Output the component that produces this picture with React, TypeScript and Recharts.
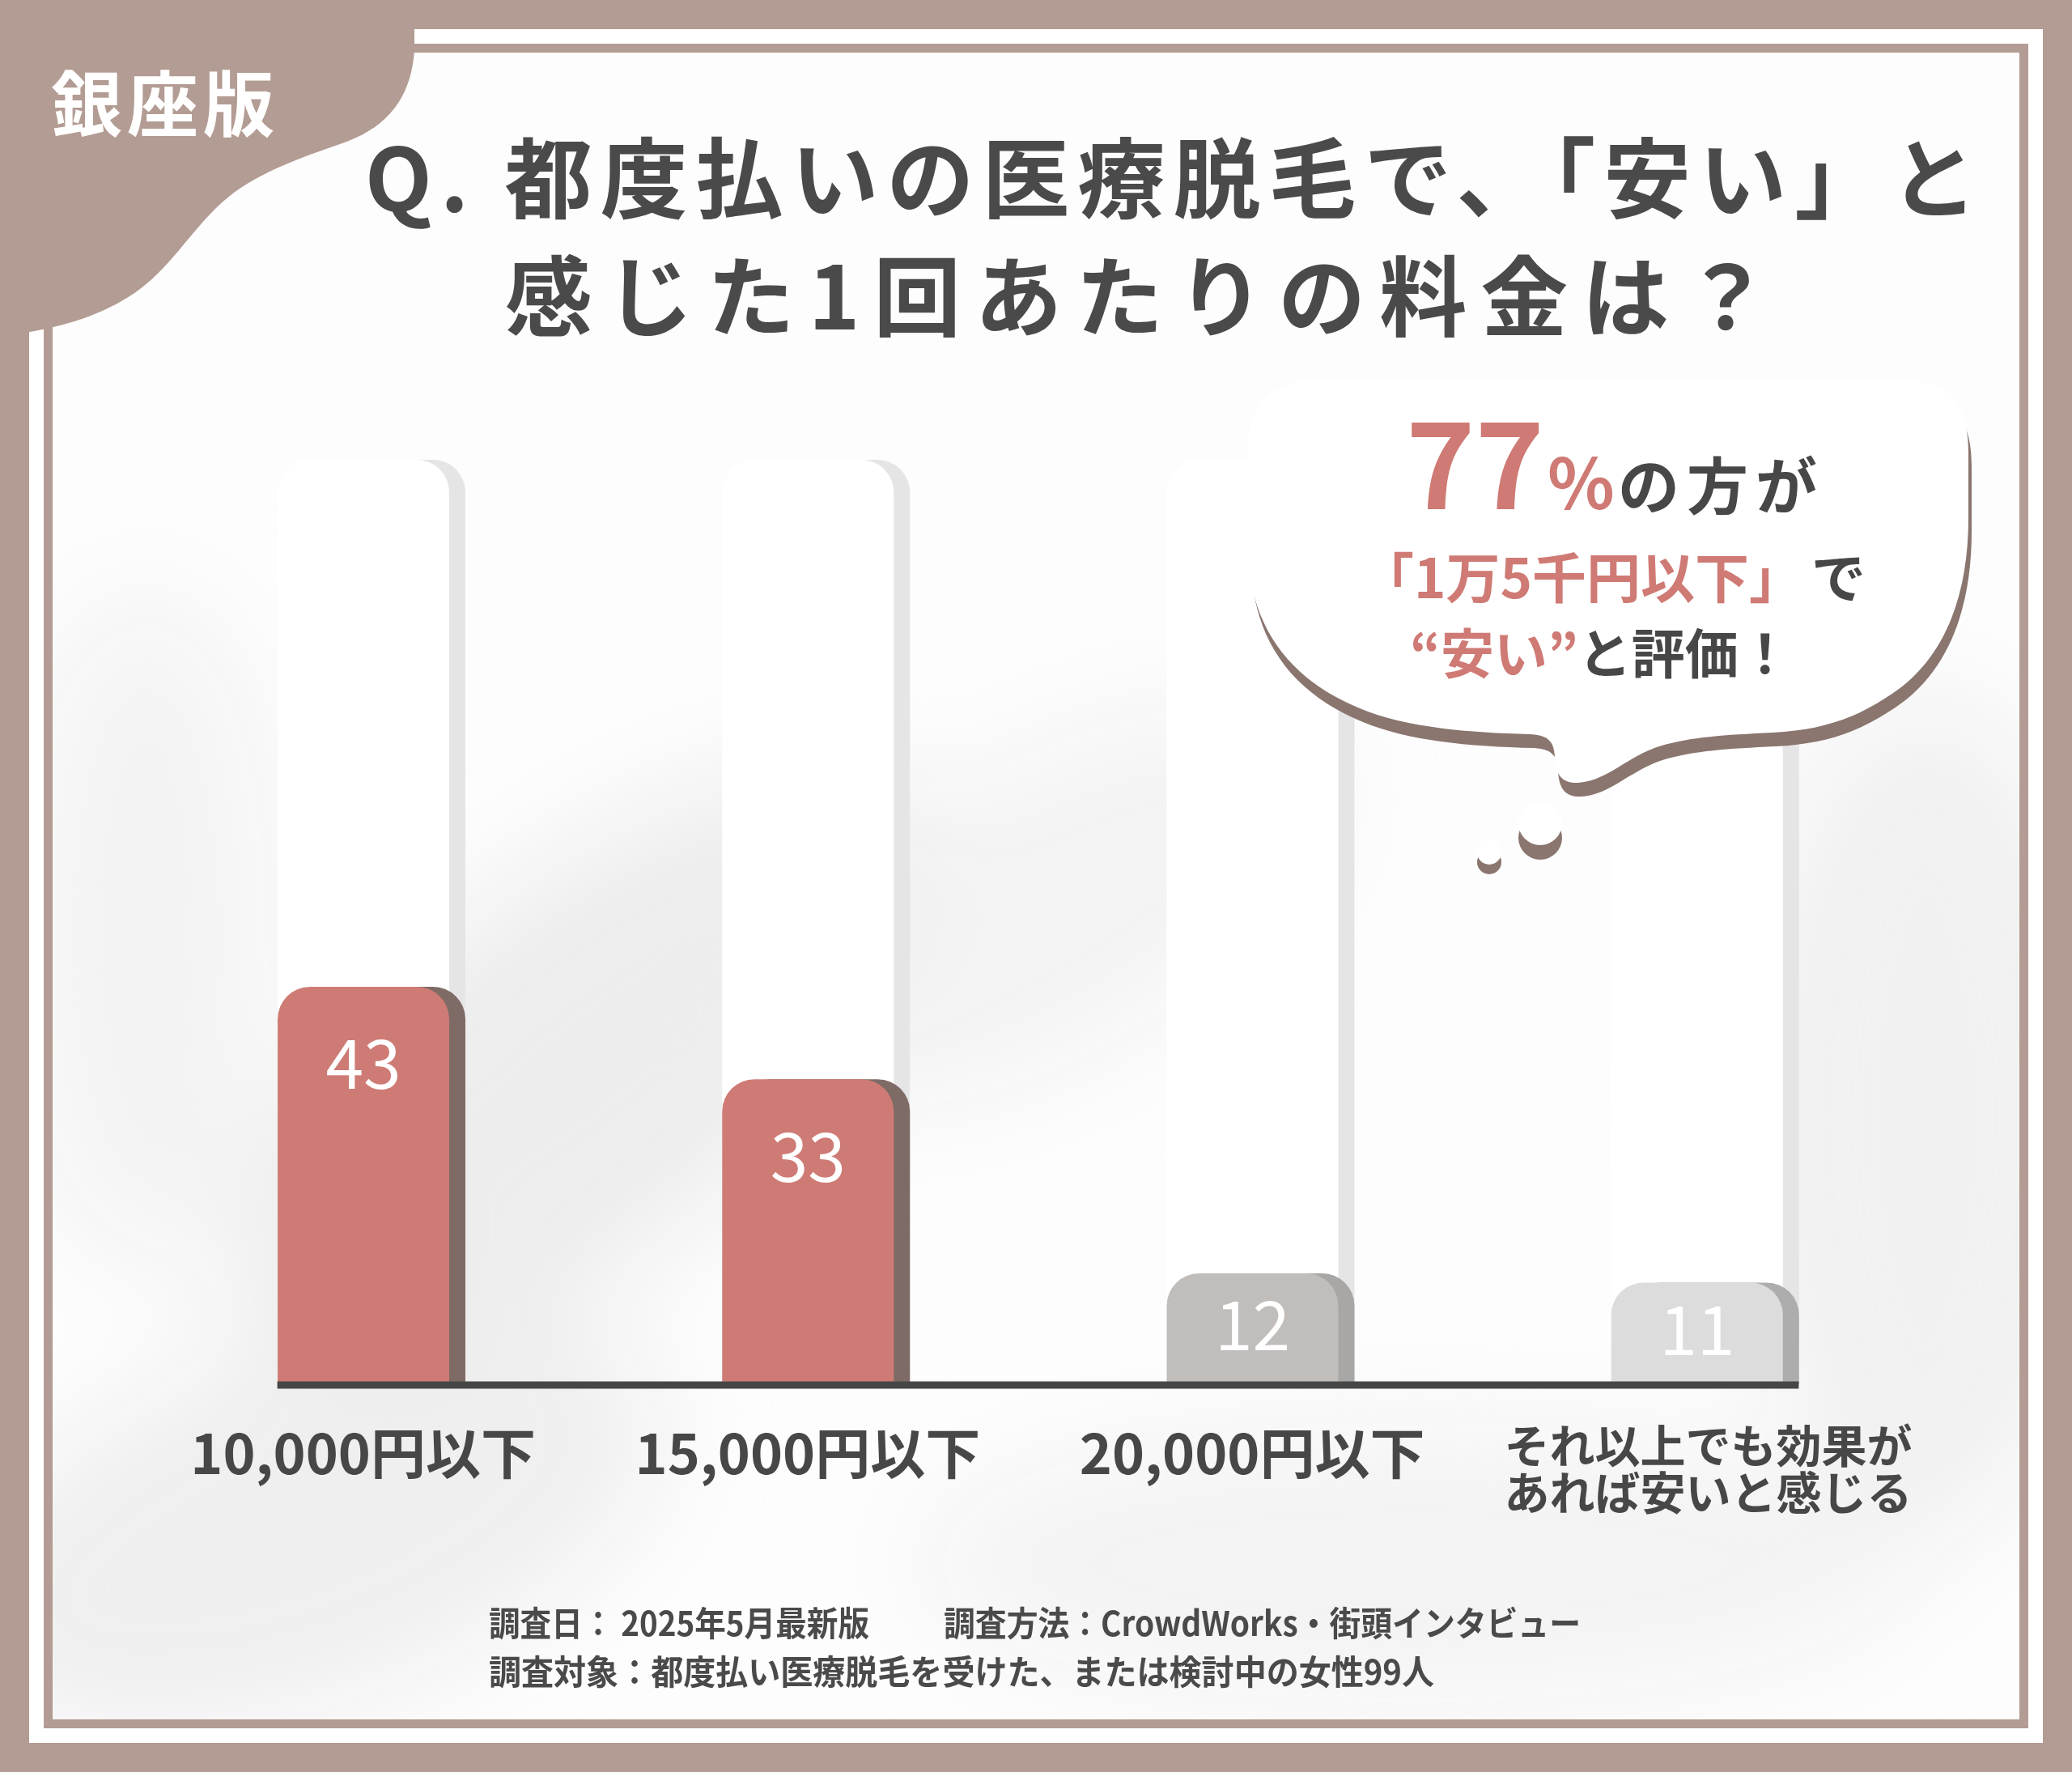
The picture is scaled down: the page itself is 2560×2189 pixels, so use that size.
import React from "react";
import { BarChart, Bar, XAxis, YAxis, LabelList, ReferenceLine } from "recharts";

// survey answers (people, n=99)
const categories = ["10,000円以下", "15,000円以下", "20,000円以下", "それ以上でも効果が\nあれば安いと感じる"];
const counts = [43, 33, 12, 11];
const yDomain = [0, 100];

const data = categories.map((name, i) => ({ name, value: counts[i] }));

const FONT = "'Noto Sans CJK JP', 'Noto Sans', sans-serif";
const BROWN = "#b39c93";
const RED = "#cf7a74";
const DARK = "#474747";
const BAR_W = 212;
const SHIFT = 20;
const RADIUS = 40;
const palette = [
  { main: "#cf7b75", side: "#7f6b66" },
  { main: "#cf7b75", side: "#7f6b66" },
  { main: "#c0bdbb", side: "#a9a7a6" },
  { main: "#dddcdc", side: "#aeadad" },
];

const topRounded = (x, y, w, h, r) => {
  const rr = Math.max(0, Math.min(r, h, w / 2));
  return `M${x},${y + h}L${x},${y + rr}A${rr},${rr} 0 0 1 ${x + rr},${y}L${x + w - rr},${y}A${rr},${rr} 0 0 1 ${x + w},${y + rr}L${x + w},${y + h}Z`;
};

const renderBar = (p) => {
  const c = palette[p.index] || palette[0];
  return (
    <g>
      <path d={topRounded(p.x + SHIFT, p.y, p.width, p.height, RADIUS)} fill={c.side} />
      <path d={topRounded(p.x, p.y, p.width, p.height, RADIUS)} fill={c.main} />
    </g>
  );
};

const renderTrack = (p) => (
  <g>
    <path d={topRounded(p.x + SHIFT, p.y, p.width, p.height, RADIUS)} fill="#e5e5e5" />
    <path d={topRounded(p.x, p.y, p.width, p.height, RADIUS)} fill="#ffffff" />
  </g>
);

const renderValue = (p) => {
  const { x, y, width, height, value } = p;
  const dy = Math.min(90, height / 2 - 10);
  return (
    <text x={x + width / 2} y={y + dy} textAnchor="middle" dominantBaseline="central"
      fontSize={84} fontFamily={FONT} fill="#ffffff">{value}</text>
  );
};

const CategoryTick = ({ x, y, payload }) => {
  const lines = String(payload.value).split("\n");
  if (lines.length === 1) {
    return (
      <text x={x} y={y + 81} textAnchor="middle" dominantBaseline="central"
        fontSize={68} fontWeight={700} fontFamily={FONT} fill={DARK}>{lines[0]}</text>
    );
  }
  return (
    <g>
      {lines.map((l, i) => (
        <text key={i} x={x + 14} y={y + 72 + i * 58} textAnchor="middle" dominantBaseline="central"
          fontSize={56} fontWeight={700} fontFamily={FONT} fill={DARK}>{l}</text>
      ))}
    </g>
  );
};

const baselineShape = (p) => (
  <line x1={p.x1 - BAR_W / 2} y1={p.y1 + 1} x2={p.x2 + BAR_W / 2 + SHIFT} y2={p.y2 + 1}
    stroke="#464646" strokeWidth={9} />
);

function Backdrop() {
  return (
    <svg width={2560} height={2189} style={{ position: "absolute", left: 0, top: 0 }}>
      <defs>
        <filter id="wash" x="-50%" y="-50%" width="200%" height="200%">
          <feGaussianBlur stdDeviation="70" />
        </filter>
        <clipPath id="panel">
          <rect x={65} y={65} width={2430} height={2059} />
        </clipPath>
      </defs>
      <rect x={36} y={36} width={2488} height={2117} fill="#ffffff" />
      <rect x={54} y={54} width={2452} height={2081} fill={BROWN} />
      <rect x={65} y={65} width={2430} height={2059} fill="#fdfdfd" />
      <g clipPath="url(#panel)" filter="url(#wash)">
        <ellipse cx={720} cy={1320} rx={520} ry={230} transform="rotate(-38 720 1320)" fill="#e6e6e6" opacity={0.7} />
        <ellipse cx={380} cy={1880} rx={460} ry={220} transform="rotate(-20 380 1880)" fill="#e8e8e8" opacity={0.7} />
        <ellipse cx={2380} cy={1380} rx={230} ry={520} fill="#ebebeb" opacity={0.7} />
        <ellipse cx={1300} cy={1120} rx={380} ry={180} transform="rotate(-30 1300 1120)" fill="#efefef" opacity={0.7} />
        <ellipse cx={1750} cy={1930} rx={620} ry={170} fill="#f0f0f0" opacity={0.7} />
        <ellipse cx={180} cy={1150} rx={160} ry={420} fill="#ececec" opacity={0.6} />
      </g>
      <path d="M0,0 L512,0 L512,62 C508,120 480,158 420,178 C350,202 300,222 262,262 C225,300 200,345 150,372 C115,392 80,402 37,410 L0,412 Z" fill={BROWN} />
      <text x={204} y={122} textAnchor="middle" dominantBaseline="central" fontSize={88} fontWeight={700}
        letterSpacing={6} fontFamily={FONT} fill="#ffffff">銀座版</text>
    </svg>
  );
}

const BUBBLE =
  "M1541,560 C1541,500 1570,470 1630,470 L2350,470 C2410,470 2432,500 2432,560 L2432,640 " +
  "C2432,740 2400,820 2330,862 C2290,888 2250,902 2190,905 C2130,908 2090,910 2050,922 " +
  "C2010,935 1985,965 1950,967 C1928,968 1922,955 1921,935 C1920,915 1912,908 1890,907 " +
  "C1820,905 1740,900 1680,875 C1600,842 1552,785 1543,700 Z";

function Overlay() {
  return (
    <svg width={2560} height={2189} style={{ position: "absolute", left: 0, top: 0, pointerEvents: "none" }} fontFamily={FONT}>
      {/* title */}
      <text x={1452} y={214} textAnchor="middle" dominantBaseline="central" fontSize={108} fontWeight={700}
        letterSpacing={10} fill="#4a4a4a">Q. 都度払いの医療脱毛で、「安い」と</text>
      <text x={1414} y={360} textAnchor="middle" dominantBaseline="central" fontSize={108} fontWeight={700}
        letterSpacing={17} fill="#4a4a4a">感じた1回あたりの料金は？</text>

      {/* speech bubble */}
      <path d={BUBBLE} transform="translate(4,17)" fill="#8a766f" />
      <path d={BUBBLE} fill="#ffffff" />
      <circle cx={1903} cy={1035} r={27} fill="#8a766f" />
      <circle cx={1903} cy={1017} r={27} fill="#ffffff" />
      <circle cx={1840} cy={1065} r={15} fill="#8a766f" />
      <circle cx={1840} cy={1053} r={15} fill="#ffffff" />

      <text x={1737} y={629} fontWeight={700}>
        <tspan fontSize={145} fill={RED}>77</tspan>
        <tspan fontSize={86} fill={RED} dx={4}>%</tspan>
        <tspan fontSize={76} fill={DARK} dx={4} letterSpacing={9}>の方が</tspan>
      </text>
      <text x={1680} y={709} dominantBaseline="central" fontSize={67} fontWeight={700}>
        <tspan fill={RED}>「1万5千円以下」</tspan>
        <tspan fill={DARK} dx={10}>で</tspan>
      </text>
      <text x={1742} y={803} dominantBaseline="central" fontSize={66} fontWeight={700}>
        <tspan fill={RED}>“安い”</tspan>
        <tspan fill={DARK}>と評価！</tspan>
      </text>

      {/* footer */}
      <text x={604} y={2002} dominantBaseline="central" fontSize={42} fontWeight={700} fill="#4a4a4a"
        textLength={470} lengthAdjust="spacingAndGlyphs">調査日： 2025年5月最新版</text>
      <text x={1166} y={2002} dominantBaseline="central" fontSize={42} fontWeight={700} fill="#4a4a4a"
        textLength={787} lengthAdjust="spacingAndGlyphs">調査方法：CrowdWorks・街頭インタビュー</text>
      <text x={604} y={2062} dominantBaseline="central" fontSize={42} fontWeight={700} fill="#4a4a4a"
        textLength={1168} lengthAdjust="spacingAndGlyphs">調査対象：都度払い医療脱毛を受けた、または検討中の女性99人</text>
    </svg>
  );
}

export default function App() {
  return (
    <div style={{ position: "absolute", left: 0, top: 0, width: 2560, height: 2189, background: BROWN, overflow: "hidden", fontFamily: FONT }}>
      <Backdrop />
      <div style={{ position: "absolute", left: 0, top: 0 }}>
        <BarChart width={2560} height={2189} data={data} margin={{ top: 568, right: 189, bottom: 179, left: 174 }}>
          <XAxis dataKey="name" height={300} interval={0} tickLine={false} axisLine={false}
            tickSize={0} tickMargin={0} tick={(p) => <CategoryTick {...p} />} />
          <YAxis hide domain={yDomain} />
          <Bar dataKey="value" barSize={BAR_W} isAnimationActive={false} shape={renderBar} background={renderTrack}>
            <LabelList dataKey="value" content={renderValue} />
          </Bar>
          <ReferenceLine segment={[{ x: categories[0], y: 0 }, { x: categories[3], y: 0 }]} shape={baselineShape} />
        </BarChart>
      </div>
      <Overlay />
    </div>
  );
}
